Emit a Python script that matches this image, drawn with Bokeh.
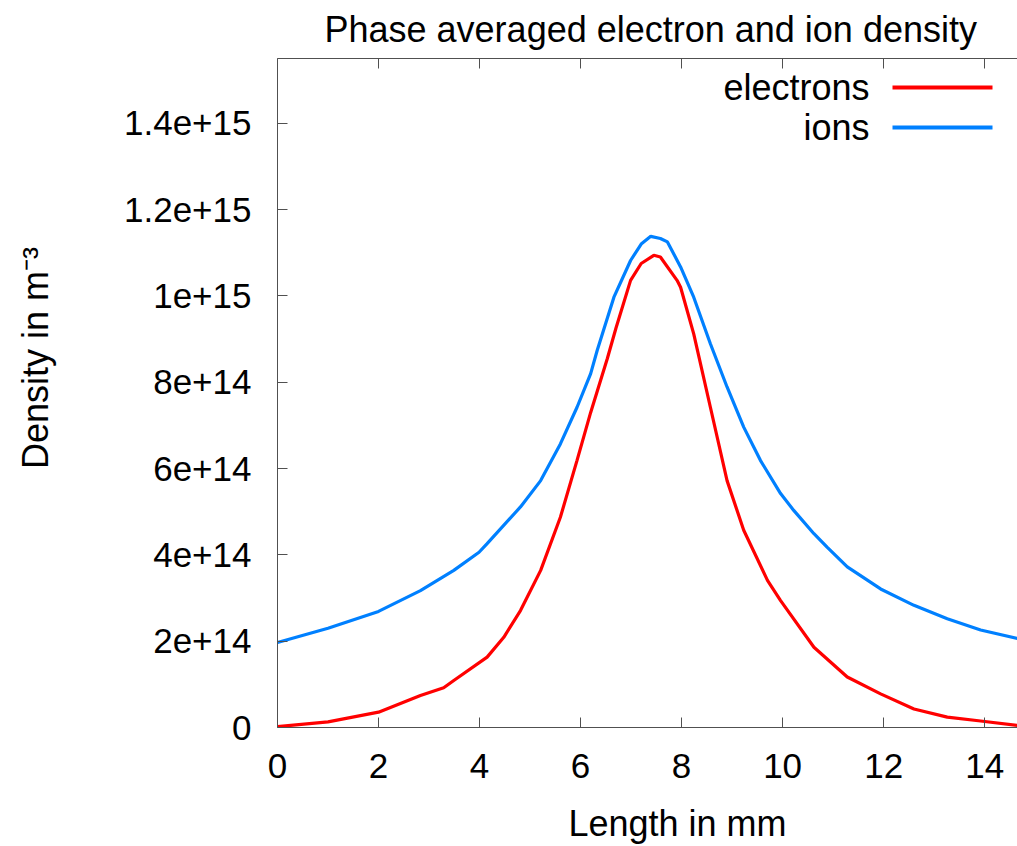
from bokeh.plotting import figure
from bokeh.models import FixedTicker, LinearAxis, Label, Arrow, Range1d
from bokeh.embed import file_html
from bokeh.resources import INLINE

# ---- data (x in mm, density in m^-3) ----
x_electrons = [0.0, 1.0, 2.0, 2.83, 3.29, 3.49, 4.15, 4.48, 4.81, 5.21, 5.60, 5.93, 6.20,
               6.53, 6.70, 6.99, 7.2, 7.45, 7.58, 7.91, 7.98, 8.24, 8.57, 8.90, 9.23, 9.70,
               9.96, 10.62, 11.28, 11.94, 12.60, 13.26, 13.92, 14.65]
n_electrons = [0.02e14, 0.13e14, 0.355e14, 0.74e14, 0.92e14, 1.09e14, 1.63e14, 2.09e14,
               2.71e14, 3.64e14, 4.87e14, 6.19e14, 7.30e14, 8.55e14, 9.25e14, 10.36e14,
               10.75e14, 10.94e14, 10.90e14, 10.36e14, 10.20e14, 9.12e14, 7.42e14, 5.72e14,
               4.57e14, 3.41e14, 2.94e14, 1.86e14, 1.17e14, 0.78e14, 0.43e14, 0.24e14,
               0.15e14, 0.05e14]

x_ions = [0.0, 1.0, 2.0, 2.83, 3.49, 3.99, 4.15, 4.81, 5.21, 5.60, 5.93, 6.20, 6.33, 6.66,
          6.99, 7.2, 7.39, 7.58, 7.72, 7.98, 8.24, 8.57, 8.90, 9.23, 9.56, 9.96, 10.22,
          10.62, 10.88, 11.28, 11.94, 12.60, 13.26, 13.92, 14.65]
n_ions = [1.97e14, 2.30e14, 2.69e14, 3.17e14, 3.64e14, 4.06e14, 4.26e14, 5.11e14, 5.72e14,
          6.57e14, 7.42e14, 8.20e14, 8.74e14, 9.97e14, 10.82e14, 11.20e14, 11.38e14,
          11.33e14, 11.25e14, 10.67e14, 9.97e14, 8.89e14, 7.89e14, 6.96e14, 6.19e14,
          5.42e14, 5.03e14, 4.49e14, 4.18e14, 3.72e14, 3.21e14, 2.83e14, 2.52e14,
          2.26e14, 2.06e14]

x_ticks = [0, 2, 4, 6, 8, 10, 12, 14]
y_ticks = [0, 2e14, 4e14, 6e14, 8e14, 1e15, 1.2e15, 1.4e15]
y_tick_labels = ["0", "2e+14", "4e+14", "6e+14", "8e+14", "1e+15", "1.2e+15", "1.4e+15"]

FONT = "Liberation Sans"
BORDER = "#505050"
NBSP = "\u00a0"

p = figure(width=1017, height=846, output_backend="svg", toolbar_location=None,
           x_range=Range1d(0, 14.65), y_range=Range1d(0, 1.55e15),
           min_border_left=277, min_border_right=0, min_border_top=58,
           min_border_bottom=119)
p.grid.visible = False
p.outline_line_color = None
p.background_fill_color = "white"
p.border_fill_color = "white"

p.line(x_electrons, n_electrons, line_color="#ff0000", line_width=3.2)
p.line(x_ions, n_ions, line_color="#0080ff", line_width=3.2)

# title
p.title.text = "Phase averaged electron and ion density"
p.title.align = "left"
p.title.offset = 47
p.title.standoff = 14
p.title.vertical_align = "top"
p.title.text_font = FONT
p.title.text_font_size = "36px"
p.title.text_font_style = "normal"
p.title.text_color = "black"

# bottom axis
xa = p.xaxis[0]
xa.ticker = FixedTicker(ticks=x_ticks)
xa.major_tick_in = 10
xa.major_tick_out = 0
xa.minor_tick_line_color = None
xa.axis_line_color = BORDER
xa.major_tick_line_color = BORDER
xa.major_label_text_font = FONT
xa.major_label_text_font_size = "35px"
xa.major_label_text_color = "black"
xa.major_label_standoff = 26
xa.axis_label = NBSP * 6 + "Length in mm"
xa.axis_label_standoff = 22
xa.axis_label_text_font = FONT
xa.axis_label_text_font_size = "36px"
xa.axis_label_text_font_style = "normal"
xa.axis_label_text_color = "black"

# left axis
ya = p.yaxis[0]
ya.ticker = FixedTicker(ticks=y_ticks)
ya.major_label_overrides = {v: s for v, s in zip(y_ticks, y_tick_labels)}
ya.major_tick_in = 10
ya.major_tick_out = 0
ya.minor_tick_line_color = None
ya.axis_line_color = BORDER
ya.major_tick_line_color = BORDER
ya.major_label_text_font = FONT
ya.major_label_text_font_size = "35px"
ya.major_label_text_color = "black"
ya.major_label_standoff = 26
ya.axis_label = NBSP * 7 + "Density in m\u207b\u00b3"
ya.axis_label_standoff = 65
ya.axis_label_text_font = FONT
ya.axis_label_text_font_size = "36px"
ya.axis_label_text_font_style = "normal"
ya.axis_label_text_color = "black"

# top border with ticks
ta = LinearAxis(ticker=FixedTicker(ticks=x_ticks), major_tick_in=10, major_tick_out=0,
                minor_tick_line_color=None, axis_line_color=BORDER,
                major_tick_line_color=BORDER, major_label_text_font_size="0px",
                major_label_standoff=0)
p.add_layout(ta, "above")

# legend (gnuplot style: text, then sample line)
p.add_layout(Label(x=592, y=640, x_units="screen", y_units="screen", text="electrons",
                   text_align="right", text_baseline="middle", text_font=FONT,
                   text_font_size="36px", text_color="black"))
p.add_layout(Label(x=592, y=600, x_units="screen", y_units="screen", text="ions",
                   text_align="right", text_baseline="middle", text_font=FONT,
                   text_font_size="36px", text_color="black"))
p.add_layout(Arrow(x_start=615, y_start=640, x_end=715, y_end=640, start_units="screen",
                   end_units="screen", start=None, end=None, line_color="#ff0000",
                   line_width=4))
p.add_layout(Arrow(x_start=615, y_start=600, x_end=715, y_end=600, start_units="screen",
                   end_units="screen", start=None, end=None, line_color="#0080ff",
                   line_width=4))

open("out.html", "w").write(file_html(p, INLINE))
